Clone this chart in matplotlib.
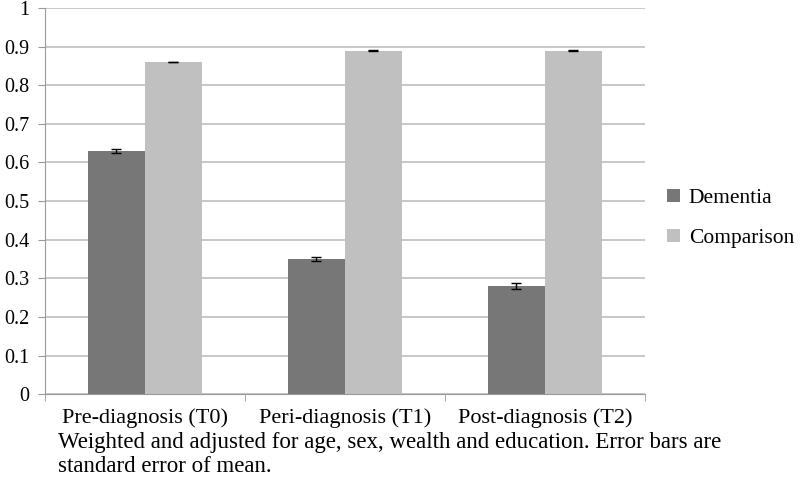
import numpy as np
import matplotlib.pyplot as plt

plt.rcParams['font.family'] = ['Liberation Serif', 'DejaVu Serif']

categories = ['Pre-diagnosis (T0)', 'Peri-diagnosis (T1)', 'Post-diagnosis (T2)']
dementia = [0.63, 0.35, 0.28]
dementia_se = [0.006, 0.006, 0.007]
comparison = [0.86, 0.89, 0.89]
comparison_se = [0.001, 0.001, 0.001]
yticks = np.arange(0, 1.01, 0.1)
ytick_labels = ['0', '0.1', '0.2', '0.3', '0.4', '0.5', '0.6', '0.7', '0.8', '0.9', '1']

fig = plt.figure(figsize=(8, 5.04), dpi=100)
ax = fig.add_axes([0.056, 0.218, 0.75, 0.766])

x = np.arange(len(categories))
w = 0.285
err_kw = dict(ecolor='black', elinewidth=1, capsize=3.5, capthick=1)
ax.bar(x - w/2, dementia, w, yerr=dementia_se, color='#777777', label='Dementia',
       error_kw=err_kw, zorder=3)
ax.bar(x + w/2, comparison, w, yerr=comparison_se, color='#c0c0c0', label='Comparison',
       error_kw=err_kw, zorder=3)

ax.set_xlim(-0.5, 2.5)
ax.set_ylim(0, 1)
ax.set_yticks(yticks)
ax.set_yticklabels(ytick_labels)
ax.yaxis.grid(True, color='#bfbfbf', linewidth=1.2, zorder=0)
ax.set_axisbelow(True)

ax.set_xticks(x)
ax.set_xticklabels(categories)
ax.set_xticks([-0.5, 0.5, 1.5, 2.5], minor=True)
ax.tick_params(axis='x', which='major', length=0, pad=10, labelsize=16)
ax.tick_params(axis='x', which='minor', length=5, color='#999999')
ax.tick_params(axis='y', length=5, color='#999999', labelsize=14.5, pad=6)

for s in ['top', 'right']:
    ax.spines[s].set_visible(False)
for s in ['left', 'bottom']:
    ax.spines[s].set_color('#999999')

ax.legend(loc='center left', bbox_to_anchor=(1.005, 0.455), frameon=False,
          fontsize=15.5, handlelength=0.6, handleheight=0.6, handletextpad=0.4,
          labelspacing=0.95)

fig.text(0.072, 0.142, 'Weighted and adjusted for age, sex, wealth and education. Error bars are\nstandard error of mean.',
         fontsize=16.5, va='top', linespacing=1.15)

fig.savefig('out.png')
